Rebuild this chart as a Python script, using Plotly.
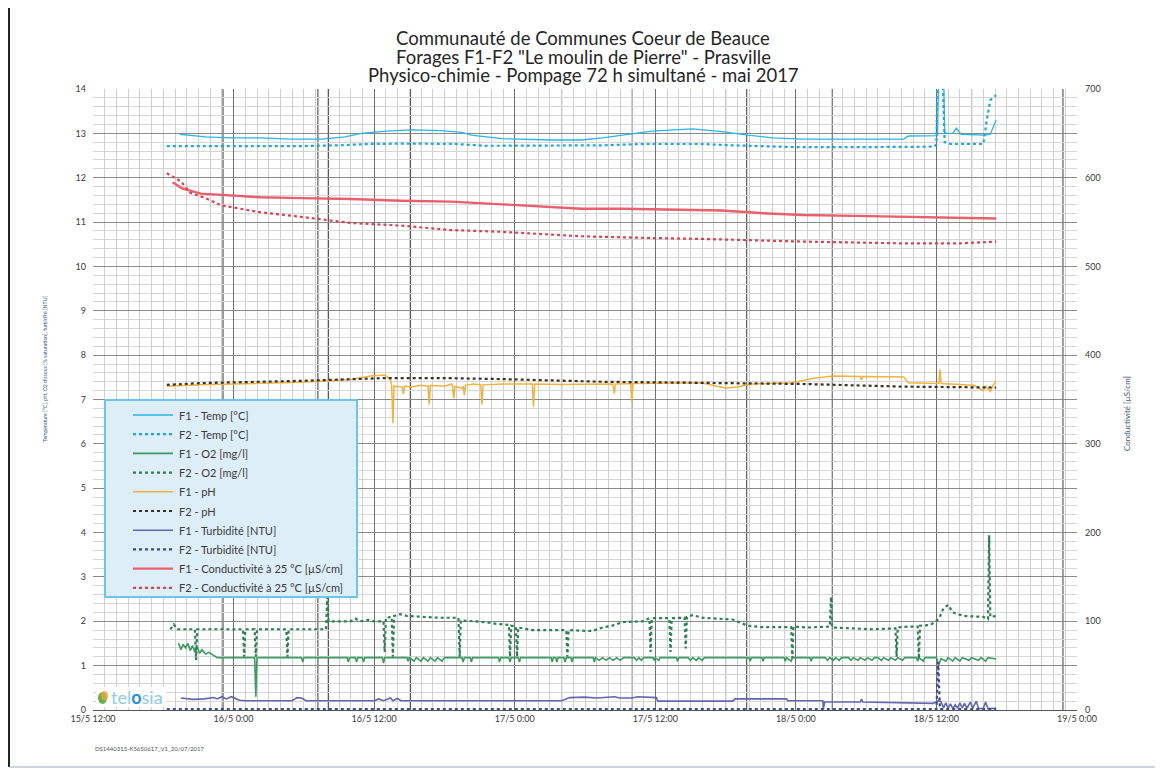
import pandas as pd
import plotly.graph_objects as go

# ---------------- data (hours since 15/5 12:00, value) ----------------
T0 = pd.Timestamp("2017-05-15 12:00")

tick_hours = [0, 12, 24, 36, 48, 60, 72, 84]
tick_labels = ["15/5 12:00", "16/5 0:00", "16/5 12:00", "17/5 0:00",
               "17/5 12:00", "18/5 0:00", "18/5 12:00", "19/5 0:00"]

f1_temp = [(7.4, 12.98), (8.5, 12.95), (9.6, 12.92), (11.7, 12.90), (14.3, 12.90),
           (16.9, 12.87), (19.5, 12.87), (21.5, 12.92), (22.9, 13.00), (25.0, 13.05),
           (27.2, 13.08), (29.7, 13.06), (31.5, 13.02), (32.3, 12.96), (34.9, 12.88),
           (39.2, 12.85), (41.7, 12.85), (43.5, 12.90), (45.2, 12.96), (47.7, 13.05),
           (51.2, 13.10), (53.7, 13.04), (55.9, 12.96), (58.0, 12.90), (60.6, 12.87),
           (66.0, 12.87), (69.2, 12.87), (69.6, 12.94), (72.1, 12.95), (72.2, 14.6),
           (72.6, 14.6), (72.7, 13.02), (72.9, 13.00), (73.4, 13.00), (73.7, 13.12),
           (74.1, 12.98), (76.2, 12.96), (76.6, 12.98), (77.1, 13.30)]

f2_temp = [(6.3, 12.71), (12.0, 12.71), (17.0, 12.71), (21.0, 12.73), (23.5, 12.76),
           (27.0, 12.77), (31.0, 12.76), (33.5, 12.72), (39.0, 12.72), (43.5, 12.73),
           (47.0, 12.76), (52.0, 12.76), (54.5, 12.73), (57.0, 12.71), (60.0, 12.69),
           (66.0, 12.69), (71.8, 12.70), (72.0, 12.75), (72.1, 14.6), (72.5, 14.6),
           (72.7, 12.80), (73.2, 12.76), (76.0, 12.76), (76.3, 13.30), (76.6, 13.75),
           (77.1, 13.86)]

f1_o2 = [(7.3, 1.51), (7.5, 1.36), (7.7, 1.48), (7.9, 1.40), (8.1, 1.50), (8.3, 1.34),
         (8.5, 1.45), (8.7, 1.30), (8.9, 1.42), (9.1, 1.28), (9.3, 1.36), (9.6, 1.26),
         (9.9, 1.30), (10.3, 1.22), (10.6, 1.18),
         (13.8, 1.18), (13.9, 0.30), (14.0, 1.18),
         (17.8, 1.18), (17.9, 1.08), (18.0, 1.18),
         (21.7, 1.18), (21.8, 1.08), (21.9, 1.18),
         (22.4, 1.18), (22.5, 1.08), (22.6, 1.18),
         (23.0, 1.18), (23.1, 1.08), (23.2, 1.18),
         (24.7, 1.18), (24.8, 1.06), (24.9, 1.18),
         (26.8, 1.18), (26.9, 1.10), (27.0, 1.18), (27.4, 1.10), (27.6, 1.18), (28.0, 1.10),
         (28.2, 1.18), (28.6, 1.10), (28.8, 1.18), (29.2, 1.10), (29.4, 1.18), (29.8, 1.10),
         (30.0, 1.18),
         (31.5, 1.18), (31.6, 1.08), (31.7, 1.18),
         (32.2, 1.18), (32.3, 1.08), (32.4, 1.18),
         (34.6, 1.18), (34.7, 1.08), (34.8, 1.18),
         (35.5, 1.18), (35.6, 1.08), (35.7, 1.18),
         (36.3, 1.18), (36.4, 1.08), (36.5, 1.18),
         (39.1, 1.18), (39.2, 1.08), (39.3, 1.18),
         (39.5, 1.18), (39.6, 1.08), (39.7, 1.18),
         (40.2, 1.18), (40.3, 1.08), (40.4, 1.18),
         (40.8, 1.18), (40.9, 1.08), (41.0, 1.18),
         (42.7, 1.18), (42.8, 1.08), (42.9, 1.18),
         (43.2, 1.12), (43.5, 1.18), (43.8, 1.12), (44.1, 1.18), (44.4, 1.12), (44.7, 1.18),
         (45.0, 1.12), (45.3, 1.18),
         (46.2, 1.18), (46.4, 1.12), (46.6, 1.18), (46.8, 1.12), (47.0, 1.18),
         (47.8, 1.18), (47.9, 1.12), (48.0, 1.18), (48.3, 1.12), (48.4, 1.18),
         (49.8, 1.18), (49.9, 1.10), (50.0, 1.18),
         (50.8, 1.18), (51.0, 1.12), (51.2, 1.18), (51.5, 1.12), (51.7, 1.18), (52.0, 1.12),
         (52.2, 1.18),
         (56.0, 1.18), (56.1, 1.10), (56.2, 1.18),
         (57.1, 1.18), (57.2, 1.10), (57.3, 1.18),
         (59.0, 1.18), (59.1, 1.10), (59.2, 1.18), (59.6, 1.10), (59.7, 1.18),
         (61.2, 1.18), (61.3, 1.10), (61.4, 1.18),
         (62.5, 1.18), (62.7, 1.12), (62.9, 1.18), (63.2, 1.12), (63.4, 1.18), (63.7, 1.12),
         (63.9, 1.18),
         (64.5, 1.18), (64.7, 1.12), (64.9, 1.18), (65.3, 1.12), (65.5, 1.18), (65.9, 1.12),
         (66.1, 1.18), (66.5, 1.12), (66.7, 1.18),
         (67.0, 1.18), (67.3, 1.12), (67.5, 1.18), (67.9, 1.12), (68.1, 1.18), (68.5, 1.12),
         (68.7, 1.18), (69.1, 1.12), (69.3, 1.18),
         (70.3, 1.18), (70.4, 1.10), (70.5, 1.18), (70.9, 1.10), (71.0, 1.18),
         (72.0, 1.18), (72.2, 1.02), (72.4, 1.16), (72.8, 1.10), (73.0, 1.18), (73.4, 1.10),
         (73.6, 1.18), (74.0, 1.10), (74.2, 1.18), (74.8, 1.12), (75.0, 1.18), (75.6, 1.12),
         (75.8, 1.18), (76.2, 1.10), (76.4, 1.18), (77.1, 1.15)]

f2_o2 = [(6.6, 1.82), (6.9, 1.93), (7.2, 1.82), (8.7, 1.82), (8.8, 1.13), (8.9, 1.82),
         (12.8, 1.82), (12.9, 1.20), (13.0, 1.82), (13.8, 1.82), (13.9, 1.20), (14.0, 1.82),
         (16.5, 1.82), (16.6, 1.20), (16.7, 1.82), (19.9, 1.82), (20.0, 2.55), (20.1, 2.00),
         (22.0, 2.00), (22.4, 2.06), (22.8, 2.00), (23.5, 2.03), (24.0, 2.00), (24.8, 2.00),
         (24.9, 1.31), (25.0, 2.08), (25.5, 2.10), (25.6, 1.20), (25.7, 2.12), (26.2, 2.16),
         (26.8, 2.12), (28.0, 2.10), (29.5, 2.08), (31.2, 2.08), (31.3, 1.20), (31.4, 2.02),
         (32.5, 2.00), (33.5, 1.98), (34.5, 1.94), (35.5, 1.92), (35.6, 1.20), (35.7, 1.90),
         (36.1, 1.88), (36.2, 1.20), (36.3, 1.86), (37.5, 1.80), (40.4, 1.80), (40.5, 1.20),
         (40.6, 1.80), (42.6, 1.78), (43.5, 1.86), (44.3, 1.90), (45.2, 1.98), (46.9, 2.00),
         (47.5, 2.07), (47.6, 1.31), (47.7, 2.07), (49.2, 2.07), (49.3, 1.31), (49.4, 2.07),
         (50.5, 2.08), (50.6, 1.39), (50.7, 2.10), (51.2, 2.14), (52.0, 2.08), (53.7, 2.06),
         (54.6, 2.04), (55.9, 1.90), (57.0, 1.87), (59.6, 1.87), (59.7, 1.17), (59.8, 1.88),
         (61.0, 1.86), (62.9, 1.88), (63.0, 2.55), (63.1, 1.86), (65.0, 1.84), (66.5, 1.82),
         (68.5, 1.84), (68.6, 1.20), (68.7, 1.86), (69.6, 1.88), (70.4, 1.88), (70.5, 1.15),
         (70.6, 1.90), (71.5, 1.92), (72.2, 2.05), (72.6, 2.29), (73.0, 2.37), (73.4, 2.20),
         (74.3, 2.12), (76.0, 2.10), (76.4, 2.05), (76.5, 3.94), (76.6, 2.10), (77.1, 2.12)]

f1_ph = [(6.3, 7.30), (9.2, 7.33), (17.7, 7.39), (22.0, 7.45), (23.7, 7.53), (24.9, 7.55),
         (25.4, 7.45), (25.5, 7.30), (25.6, 6.47), (25.7, 7.30), (26.4, 7.28), (26.5, 7.12),
         (26.6, 7.30), (27.2, 7.28), (28.0, 7.32), (28.6, 7.30), (28.7, 6.88), (28.8, 7.32),
         (30.0, 7.30), (30.6, 7.35), (30.7, 7.30), (30.8, 7.03), (30.9, 7.30), (31.5, 7.25),
         (31.6, 7.30), (31.7, 7.10), (31.8, 7.32), (32.5, 7.35), (33.1, 7.33), (33.2, 6.88),
         (33.3, 7.33), (35.0, 7.35), (37.5, 7.35), (37.6, 6.84), (37.7, 7.35), (40.0, 7.34),
         (44.4, 7.35), (44.5, 7.13), (44.6, 7.35), (45.9, 7.36), (46.0, 6.95), (46.1, 7.36),
         (50.0, 7.37), (52.0, 7.37), (54.0, 7.26), (55.0, 7.28), (56.3, 7.35), (59.7, 7.38),
         (61.5, 7.48), (63.2, 7.53), (65.5, 7.52), (65.6, 7.44), (65.7, 7.52), (69.2, 7.51),
         (69.6, 7.38), (72.2, 7.36), (72.3, 7.68), (72.4, 7.36), (75.2, 7.32), (76.0, 7.20),
         (76.2, 7.30), (76.6, 7.18), (76.8, 7.30), (77.1, 7.42)]

f2_ph = [(6.3, 7.33), (9.2, 7.37), (17.7, 7.42), (24.6, 7.48), (30.6, 7.48), (34.9, 7.46),
         (43.5, 7.40), (52.0, 7.38), (60.6, 7.35), (69.2, 7.29), (77.1, 7.27)]

f1_turb = [(7.5, 0.27), (8.5, 0.24), (9.5, 0.25), (10.3, 0.28), (10.6, 0.25), (11.0, 0.30),
           (11.4, 0.25), (11.8, 0.30), (12.5, 0.22), (13.0, 0.21), (17.0, 0.21), (17.4, 0.28),
           (17.8, 0.27), (18.2, 0.21), (24.0, 0.21), (24.4, 0.25), (24.8, 0.21), (25.4, 0.27),
           (25.6, 0.21), (26.0, 0.26), (26.3, 0.21), (34.9, 0.21), (40.0, 0.21), (40.7, 0.28),
           (42.0, 0.29), (43.0, 0.27), (44.5, 0.30), (45.0, 0.27), (46.0, 0.27), (46.5, 0.30),
           (47.7, 0.28), (48.1, 0.28), (48.2, 0.20), (54.6, 0.20), (54.8, 0.25), (59.2, 0.25),
           (59.3, 0.21), (62.3, 0.21), (62.35, 0.02), (62.45, 0.18), (65.5, 0.18), (65.6, 0.25),
           (65.7, 0.18), (71.7, 0.15), (72.0, 0.18), (72.2, 0.22), (72.4, 0.18), (72.6, 0.05),
           (72.8, 0.16), (73.0, 0.04), (73.2, 0.14), (73.4, 0.03), (73.6, 0.12), (73.8, 0.04),
           (74.0, 0.16), (74.2, 0.05), (74.4, 0.15), (74.6, 0.04), (74.9, 0.18), (75.1, 0.04),
           (75.4, 0.20), (75.6, 0.03), (76.0, 0.04), (76.2, 0.18), (76.4, 0.03), (77.1, 0.04)]

f2_turb = [(6.3, 0.02), (72.0, 0.02), (72.15, 1.08), (72.3, 0.02), (77.1, 0.02)]

f1_cond = [(6.8, 595), (7.6, 588), (9.2, 582), (11.7, 580), (14.3, 578), (17.7, 577),
           (22.0, 576), (26.3, 574), (30.6, 573), (34.9, 570), (39.2, 567), (41.7, 565),
           (45.2, 565), (50.3, 564), (53.7, 563), (57.2, 560), (60.6, 558), (65.0, 557),
           (69.2, 556), (73.0, 555), (77.1, 554)]

f2_cond = [(6.3, 605), (7.5, 596), (8.3, 583), (9.6, 577), (10.9, 569), (12.6, 565),
           (14.3, 561), (17.7, 556), (22.0, 549), (26.3, 546), (30.6, 541), (34.9, 539),
           (41.7, 534), (47.7, 532), (52.0, 531), (60.6, 528), (69.2, 526), (74.0, 526),
           (77.1, 528)]

series = [
    ("F1 - Temp [°C]", f1_temp, "#2DB4E6", 1.3, "solid", "y"),
    ("F2 - Temp [°C]", f2_temp, "#1FA6DE", 2.2, "dot", "y"),
    ("F1 - O2 [mg/l]", f1_o2, "#3C9A62", 1.6, "solid", "y"),
    ("F2 - O2 [mg/l]", f2_o2, "#2E7F52", 2.2, "dot", "y"),
    ("F1 - pH", f1_ph, "#F2B23E", 1.5, "solid", "y"),
    ("F2 - pH", f2_ph, "#3A302A", 2.2, "dot", "y"),
    ("F1 - Turbidité [NTU]", f1_turb, "#6466B0", 1.6, "solid", "y"),
    ("F2 - Turbidité [NTU]", f2_turb, "#3A4C8E", 2.2, "dot", "y"),
    ("F1 - Conductivité à 25 °C [µS/cm]", f1_cond, "#E8606E", 2.4, "solid", "y2"),
    ("F2 - Conductivité à 25 °C [µS/cm]", f2_cond, "#D84452", 2.2, "dot", "y2"),
]

# darker lines of the scanned grid paper (hours since start)
dark_grid_hours = [11.1, 19.2, 20.1, 27.1, 40.0, 46.0, 54.0, 55.8, 63.1, 75.0, 82.8]


def to_time(hours):
    return [T0 + pd.Timedelta(hours=h) for h in hours]


fig = go.Figure()
for name, pts, color, width, dash, yax in series:
    hs = [p[0] for p in pts]
    vs = [p[1] for p in pts]
    fig.add_trace(go.Scatter(x=to_time(hs), y=vs, name=name, mode="lines",
                             line=dict(color=color, width=width, dash=dash),
                             yaxis=yax, showlegend=False))

# ---------------- layout ----------------
# page is shown with an 8px body margin: figure origin sits at page (8, 8)
OFF = 8
L, R, T, B = 93, 1077, 89, 710          # plot area in page pixels
W, H = R - L, B - T
FIG_W, FIG_H = 1163 - OFF, 769 - OFF


def px(xp):
    return (xp - L) / W


def py(yp):
    return (B - yp) / H


FONT = "Lato"
tick_font = dict(family=FONT, size=9, color="#3a3a3a")

fig.update_layout(
    width=FIG_W, height=FIG_H,
    margin=dict(l=L - OFF, r=FIG_W - (R - OFF), t=T - OFF, b=FIG_H - (B - OFF), pad=0),
    paper_bgcolor="white", plot_bgcolor="white",
    font=dict(family=FONT, color="#333"),
    showlegend=False,
    xaxis=dict(
        type="date",
        range=[T0, T0 + pd.Timedelta(hours=84)],
        tickmode="array",
        tickvals=to_time(tick_hours),
        ticktext=tick_labels,
        tickfont=tick_font,
        showgrid=True, gridcolor="#6f6f6f", gridwidth=1,
        minor=dict(tickmode="linear", tick0=T0, dtick=3600000, showgrid=True,
                   gridcolor="#cfcfcf", gridwidth=1),
        showline=True, linecolor="#555", linewidth=1,
        ticks="", zeroline=False,
    ),
    yaxis=dict(
        range=[0, 14], dtick=1, tick0=0,
        tickfont=tick_font, ticklabelstandoff=6,
        showgrid=True, gridcolor="#8a8a8a", gridwidth=1,
        minor=dict(dtick=0.2, showgrid=True, gridcolor="#d6d6d6", gridwidth=1),
        ticks="", zeroline=False, showline=False,
    ),
    yaxis2=dict(
        range=[0, 700], dtick=100, tick0=0,
        overlaying="y", side="right",
        tickfont=tick_font, ticklabelstandoff=7,
        showgrid=False, ticks="", zeroline=False, showline=False,
    ),
)

for tm in to_time(dark_grid_hours):
    fig.add_shape(type="line", xref="x", yref="paper", x0=tm, x1=tm, y0=0, y1=1,
                  layer="between", line=dict(color="#5a5a5a", width=1.2))

# ---------------- legend (drawn as a boxed key) ----------------
fig.add_shape(type="rect", xref="paper", yref="paper",
              x0=px(105), x1=px(357), y0=py(597), y1=py(400),
              fillcolor="#DDEEF8", line=dict(color="#6CC6EA", width=2))
for i, (name, pts, color, width, dash, yax) in enumerate(series):
    yrow = 415 + i * 19.2
    fig.add_shape(type="line", xref="paper", yref="paper",
                  x0=px(133), x1=px(173), y0=py(yrow), y1=py(yrow),
                  line=dict(color=color, width=width, dash=dash))
    fig.add_annotation(text=name, x=px(177), y=py(yrow), xref="paper", yref="paper",
                       showarrow=False, xanchor="left", yanchor="middle",
                       font=dict(family=FONT, size=11, color="#3a3a3a"))

title_lines = ["Communauté de Communes Coeur de Beauce",
               "Forages F1-F2 \"Le moulin de Pierre\" - Prasville",
               "Physico-chimie - Pompage 72 h simultané - mai 2017"]
for text, yp in zip(title_lines, [38, 57, 75]):
    fig.add_annotation(text=text, x=px(583), y=py(yp), xref="paper", yref="paper",
                       showarrow=False, xanchor="center", yanchor="middle",
                       font=dict(family=FONT, size=18.5, color="#262626"))

fig.add_annotation(text="Température [°C], pH, O2 dissous [% saturation], turbidité [NTU]",
                   x=px(45), y=py(369), xref="paper", yref="paper", showarrow=False,
                   textangle=-90, xanchor="center", yanchor="middle",
                   font=dict(family=FONT, size=5.2, color="#3B5A7E"))
fig.add_annotation(text="Conductivité [µS/cm]",
                   x=px(1127), y=py(414), xref="paper", yref="paper", showarrow=False,
                   textangle=-90, xanchor="center", yanchor="middle",
                   font=dict(family=FONT, size=8, color="#3B5A7E"))

fig.add_annotation(text="DS1440315-K5650617_V1_20/07/2017",
                   x=px(93), y=py(748), xref="paper", yref="paper", showarrow=False,
                   xanchor="left", yanchor="middle",
                   font=dict(family=FONT, size=6, color="#555"))

# telosia logo
fig.add_shape(type="rect", xref="paper", yref="paper", x0=px(96), x1=px(166),
              y0=py(707), y1=py(687), fillcolor="white", line=dict(width=0))
fig.add_shape(type="circle", xref="paper", yref="paper", x0=px(98), x1=px(107),
              y0=py(704), y1=py(692), fillcolor="#6BAF4E", line=dict(width=0))
fig.add_shape(type="circle", xref="paper", yref="paper", x0=px(101), x1=px(108),
              y0=py(700), y1=py(691), fillcolor="#F0A53A", line=dict(width=0), opacity=0.8)
fig.add_annotation(text="<span style='color:#8FCBEA'>tel</span><b><span style='color:#2C8ED2'>o</span></b><span style='color:#8FCBEA'>sia</span>",
                   x=px(109), y=py(697), xref="paper", yref="paper", showarrow=False,
                   xanchor="left", yanchor="middle",
                   font=dict(family=FONT, size=18))

# page frame from the scan
fig.add_shape(type="line", xref="paper", yref="paper", x0=px(9), x1=px(9),
              y0=py(OFF), y1=py(767), line=dict(color="#222", width=2))
fig.add_shape(type="line", xref="paper", yref="paper", x0=px(9), x1=px(1163),
              y0=py(767), y1=py(767), line=dict(color="#9ab", width=1))

fig.write_html("out.html")
